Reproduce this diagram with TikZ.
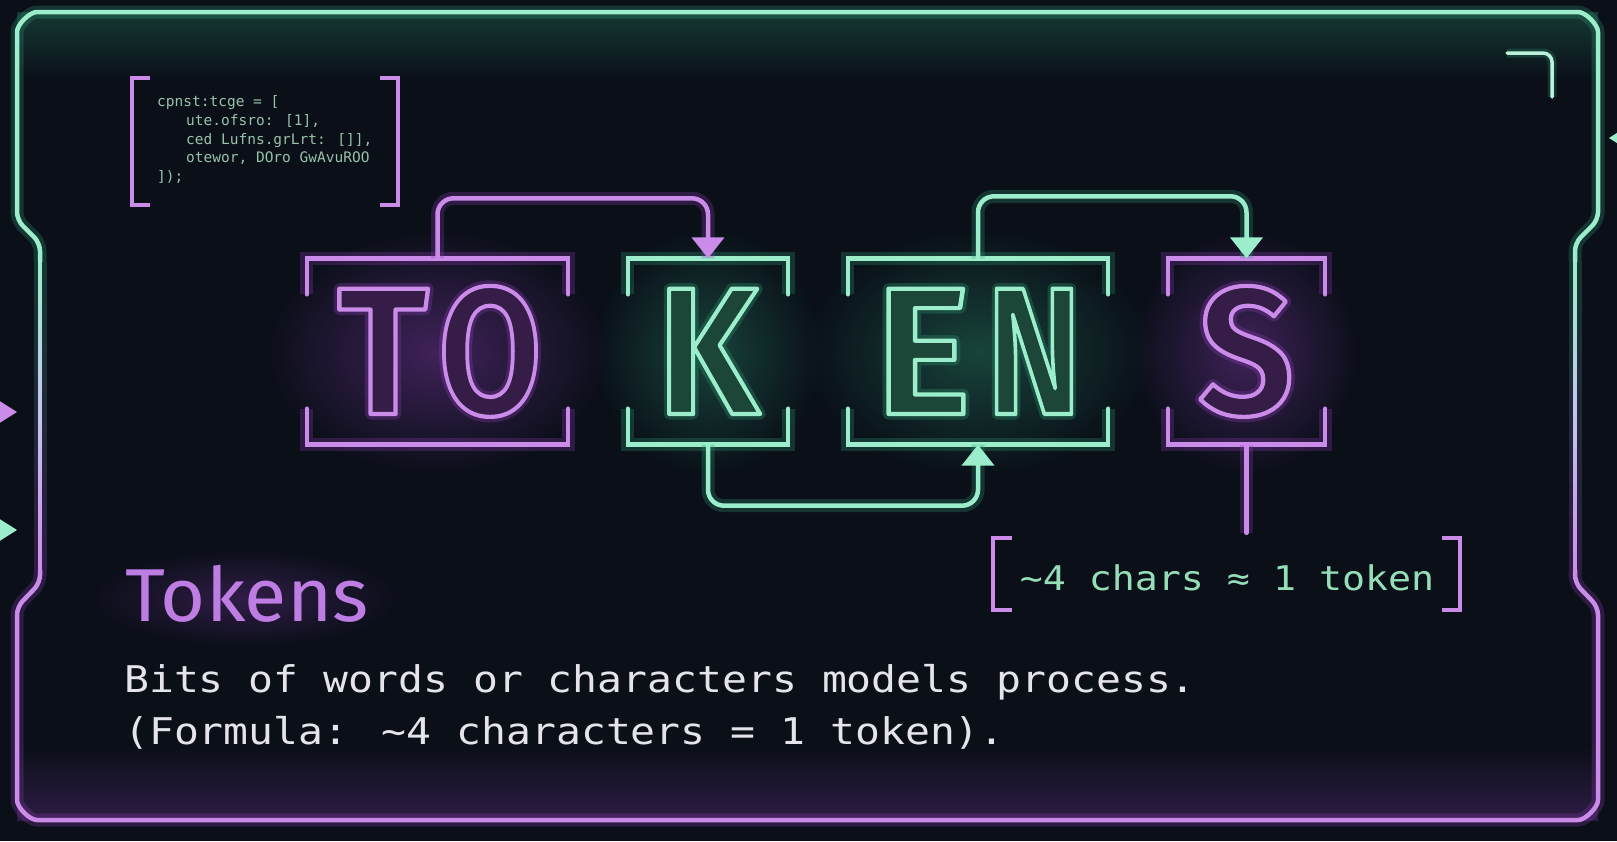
\documentclass[tikz,border=0pt]{standalone}
\usepackage{fontspec}
\usepackage{graphicx}
\usetikzlibrary{arrows.meta,calc,fadings}
\newfontfamily\bigfont{Fira Sans}[BoldFont={* SemiBold},FakeStretch=0.92]
\newfontfamily\headfont{Fira Sans}[FakeStretch=1.03]
\newfontfamily\monofont{DejaVu Sans Mono}[FakeStretch=1.125]
\newfontfamily\codefont{DejaVu Sans Mono}
\definecolor{bgc}{HTML}{0A0F18}
\definecolor{gco}{HTML}{9BEDCB}
\definecolor{ggl}{HTML}{2E9A73}
\definecolor{gdm}{HTML}{1B4638}
\definecolor{pco}{HTML}{CB8CE9}
\definecolor{pgl}{HTML}{8A3DB5}
\definecolor{pdm}{HTML}{351D48}
\definecolor{lav}{HTML}{C6C4EE}
\definecolor{bodyc}{HTML}{E4E4EA}
\definecolor{headc}{HTML}{BE7DE2}
\definecolor{codec}{HTML}{98C2AA}
\definecolor{formc}{HTML}{94DEB8}
\definecolor{cornc}{HTML}{B9F1DC}
\tikzfading[name=glowfade, inner color=transparent!0, outer color=transparent!100]
\newcommand\outl[2]{\special{pdf:literal direct 1 j #1 w 1 Tr}#2\special{pdf:literal direct 0 Tr}}
\newcommand\bigsize{\fontsize{181}{181}\selectfont}
\newcommand\neonletter[5]{%
  \begin{scope}[opacity=0.3]
    \node[letn,text=#4gl] at #2 {\scalebox{#5}[1]{\outl{11}{#3}}};
  \end{scope}
  \node[letn,text=#4dm] at #2 {\scalebox{#5}[1]{#3}};
  \node[letn,text=#4co] (#1) at #2 {\scalebox{#5}[1]{\outl{4.2}{#3}}};
}
\begin{document}
\begin{tikzpicture}[x=1pt,y=-1pt,
  letn/.style={anchor=base,inner sep=0pt,font=\bigfont\bfseries\bigsize},
  gline/.style={draw=gco,line width=4.5pt,line cap=round,line join=round},
  pline/.style={draw=pco,line width=4.5pt,line cap=round,line join=round},
  gneon/.style={gline,preaction={draw=ggl,line width=13pt,opacity=0.28,arrows=-}},
  pneon/.style={pline,preaction={draw=pgl,line width=13pt,opacity=0.28,arrows=-}},
  tip/.style={-{Triangle[width=32pt,length=21pt]}},
  boxn/.style={inner sep=0pt,minimum height=186pt,minimum width=#1},
  haze/.style={fill=#1,path fading=glowfade},
  codet/.style={anchor=base west,inner sep=0pt,text=codec,font=\codefont\fontsize{14.5}{17}\selectfont},
  bodyt/.style={anchor=base west,inner sep=0pt,text=bodyc,font=\monofont\fontsize{36.8}{44}\selectfont},
]
\useasboundingbox (0,0) rectangle (1617,841);
\fill[bgc] (0,0) rectangle (1617,841);
% hazes
\shade[top color=ggl!30!bgc, bottom color=bgc] (17,12) rectangle (1598,80);
\shade[top color=bgc, bottom color=pgl!28!bgc] (17,745) rectangle (1598,820);
\fill[haze=pgl,fill opacity=0.42] (437,352) ellipse (175 and 125);
\fill[haze=ggl,fill opacity=0.38] (708,352) ellipse (115 and 125);
\fill[haze=ggl,fill opacity=0.38] (978,352) ellipse (175 and 125);
\fill[haze=pgl,fill opacity=0.42] (1246,352) ellipse (115 and 125);
\fill[haze=pgl,fill opacity=0.3] (245,598) ellipse (160 and 50);

% frame: green top part
\draw[gneon,line cap=butt,rounded corners=8] (40,262) -- (40,243) -- (17,220) -- (17,40)
  arc[start angle=180,end angle=270,radius=28] -- (1570,12)
  arc[start angle=270,end angle=360,radius=28] -- (1598,220) -- (1575,243) -- (1575,262);
% frame: purple bottom part
\draw[pneon,line cap=butt,rounded corners=8] (40,570) -- (40,583) -- (17,607) -- (17,792)
  arc[start angle=180,end angle=90,radius=28] -- (1570,820)
  arc[start angle=90,end angle=0,radius=28] -- (1598,607) -- (1575,583) -- (1575,570);
% frame: gradient sides
\foreach \i in {0,...,27}{
  \pgfmathsetmacro\mya{262+11*\i}
  \pgfmathsetmacro\myb{273+11*\i}
  \pgfmathtruncatemacro\myt{(\i+0.5)*200/28}
  \pgfmathtruncatemacro\mys{(\i+0.5)*100/28}
  \colorlet{segg}{pgl!\mys!ggl}
  \ifnum\myt<100
    \colorlet{segc}{lav!\myt!gco}
  \else
    \pgfmathtruncatemacro\myu{\myt-100}
    \colorlet{segc}{pco!\myu!lav}
  \fi
  \draw[segg,line width=13pt,opacity=0.28] (40,\mya) -- (40,\myb) (1575,\mya) -- (1575,\myb);
  \draw[segc,line width=4.5pt] (40,\mya) -- (40,\myb) (1575,\mya) -- (1575,\myb);
}
% side markers
\fill[pco] (17,412) -- (-2,400) -- (-2,424) -- cycle;
\fill[gco] (17,530) -- (-2,518) -- (-2,542) -- cycle;
\fill[gco] (1609,138) -- (1620,131) -- (1620,145) -- cycle;
% top-right corner mark
\draw[draw=cornc,line width=3.5pt,rounded corners=9,line cap=round,
  preaction={draw=ggl,line width=9pt,opacity=0.25}] (1507,53) -- (1552,53) -- (1552,97);

% code block
\draw[pline,line width=4pt,line cap=butt,line join=miter] (150,78) -- (132,78) -- (132,205) -- (150,205);
\draw[pline,line width=4pt,line cap=butt,line join=miter] (380,78) -- (398,78) -- (398,205) -- (380,205);
\node[codet] (code1) at (157,106) {cpnst:tcge = [};
\node[codet] (code2) at (186,125) {ute.ofsro: [1],};
\node[codet] (code3) at (186,144) {ced Lufns.grLrt: []],};
\node[codet] (code4) at (186,162) {otewor, DOro GwAvuROO};
\node[codet] (code5) at (157,181) {]);};

% bracket boxes
\node[boxn=261pt] (boxTO) at (437.5,351.5) {};
\node[boxn=160pt] (boxK) at (708,351.5) {};
\node[boxn=260pt] (boxEN) at (978,351.5) {};
\node[boxn=157pt] (boxS) at (1246.5,351.5) {};
\foreach \b/\s in {boxTO/pneon,boxK/gneon,boxEN/gneon,boxS/pneon}{
  \draw[\s,line join=miter] ([yshift=-36pt]\b.north west) -- (\b.north west) -- (\b.north east) -- ([yshift=-36pt]\b.north east);
  \draw[\s,line join=miter] ([yshift=36pt]\b.south west) -- (\b.south west) -- (\b.south east) -- ([yshift=36pt]\b.south east);
}

% formula
\node[inner sep=0pt,minimum width=467pt,minimum height=72pt] (formula) at (1226.5,574) {};
\draw[pline,line width=4pt,line cap=butt,line join=miter] ([xshift=19pt]formula.north west) -- (formula.north west) -- (formula.south west) -- ([xshift=19pt]formula.south west);
\draw[pline,line width=4pt,line cap=butt,line join=miter] ([xshift=-18pt]formula.north east) -- (formula.north east) -- (formula.south east) -- ([xshift=-18pt]formula.south east);
\node[anchor=base,inner sep=0pt,text=formc,font=\monofont\fontsize{34}{40}\selectfont] (formtext) at (1227,590) {\textasciitilde4 chars ≈ 1 token};

% connectors
\draw[pneon,tip,rounded corners=16] (boxTO.north) -- ++(0,-60) -| (boxK.north);
\draw[gneon,tip,rounded corners=16] (boxEN.north) -- ++(0,-62) -| (boxS.north);
\draw[gneon,tip,rounded corners=16] (boxK.south) -- ++(0,61) -| (boxEN.south);
\draw[pneon] (boxS.south) -- ($(boxS.south |- formula.north)+(0,-5)$);

% letters
\neonletter{lT}{(383,414)}{T}{p}{1.02}
\neonletter{lO}{(490,414)}{O}{p}{0.9}
\neonletter{lK}{(708,414)}{K}{g}{0.98}
\neonletter{lE}{(923,414)}{E}{g}{1.08}
\neonletter{lN}{(1034,414)}{N}{g}{0.86}
\neonletter{lS}{(1246,414)}{S}{p}{1.02}

% texts
\node[anchor=base west,inner sep=0pt,text=headc,font=\headfont\fontsize{75}{80}\selectfont] (head) at (125,621) {Tokens};
\node[bodyt] (body1) at (124,692) {Bits of words or characters models process.};
\node[bodyt] (body2) at (124,744) {(Formula: \textasciitilde4 characters = 1 token).};
\end{tikzpicture}
\end{document}
